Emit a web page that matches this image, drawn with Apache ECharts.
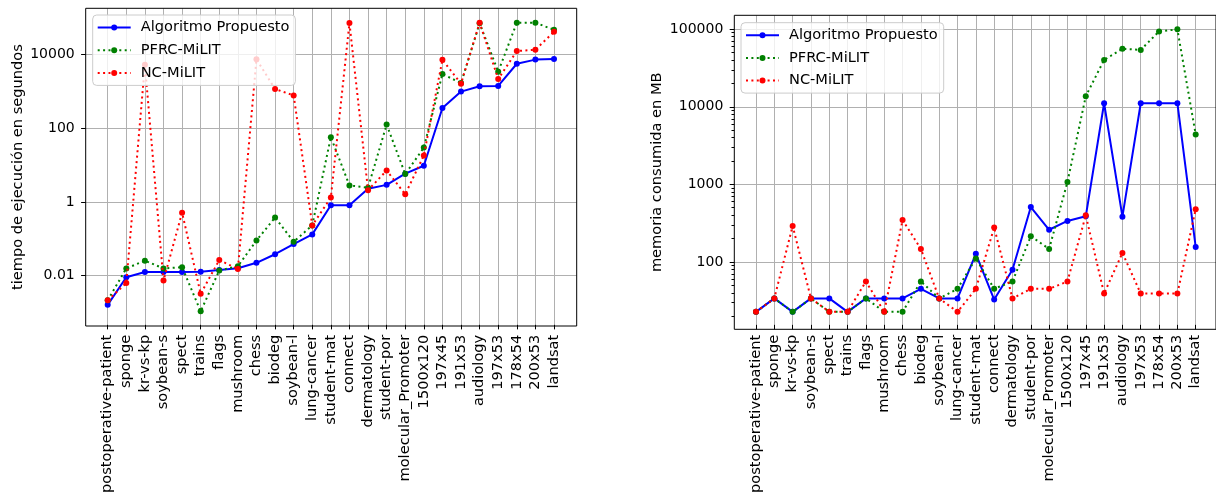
<!DOCTYPE html>
<html><head><meta charset="utf-8">
<script src="https://cdn.jsdelivr.net/npm/echarts@6/dist/echarts.min.js"></script>
<style>html,body{margin:0;padding:0;background:#fff}#c{width:1216px;height:496px}</style>
</head><body><div id="c"></div>
<script>
const categories = ['postoperative-patient','sponge','kr-vs-kp','soybean-s','spect','trains','flags','mushroom','chess','biodeg','soybean-l','lung-cancer','student-mat','connect','dermatology','student-por','molecular_Promoter','1500x120','197x45','191x53','audiology','197x53','178x54','200x53','landsat'];
const seriesNames = ['Algoritmo Propuesto','PFRC-MiLIT','NC-MiLIT'];

// tiempo de ejecución (s)
const timeAlg  = [0.0015,0.0085,0.0118,0.0118,0.0118,0.012,0.0134,0.0149,0.021,0.036,0.068,0.125,0.78,0.78,2.2,2.8,5.65,9.3,349,976,1360,1390,5600,7270,7600];
const timePFRC = [0.0020,0.0148,0.024,0.0148,0.016,0.0010,0.013,0.017,0.085,0.36,0.079,0.22,56,2.7,2.35,123,5.5,29,2930,1670,71000,3400,74000,74000,47000];
const timeNC   = [0.0020,0.0059,5250,0.0069,0.49,0.0030,0.025,0.0142,7450,1150,770,0.22,1.26,72000,2.0,6.9,1.55,17.7,7200,1600,74000,2150,12400,13500,41500];

// memoria consumida (MB)
const memAlg  = [20,30,20,30,30,20,30,30,30,40,30,30,115,29,71,469,237,309,355,10700,351,10700,10700,10700,141];
const memPFRC = [20,30,20,30,20,20,30,20,20,50,30,40,100,40,50,195,133,1000,13200,39400,55000,53300,93000,98900,4170];
const memNC   = [20,30,266,30,20,20,50,20,318,133,30,20,40,253,30,40,40,50,366,34.7,118,34.7,34.7,34.7,441];

const timeTicks = [0.01, 1, 100, 10000];
const memTicks = [100, 1000, 10000, 100000];
const memMinorTicks = [20,30,40,50,60,70,80,90,200,300,400,500,600,700,800,900,2000,3000,4000,5000,6000,7000,8000,9000,20000,30000,40000,50000,60000,70000,80000,90000];

const FONT = 'DejaVu Sans';
const colors = ['#0000ff', '#008000', '#ff0000'];
const lineTypes = ['solid', [2, 3.4], [2, 3.4]];
const GRID_C = '#b0b0b0';
function fmt(v){ return String(Number(Number(v).toPrecision(6))); }
const lg = v => Math.log10(v);   // both y axes are logarithmic (decades)

const L = {fl: 85.7, ft: 8.3, fw: 491, fh: 317.7, cl: 107.7, cw: 446.3, min: 0.00043, max: 181970};
const R = {fl: 734.3, ft: 15.3, fw: 483.4, fh: 314, cl: 756, cw: 439.7, min: 13.56, max: 151000};

const chart = echarts.init(document.getElementById('c'), null, {renderer: 'canvas'});

function frameGrid(P){ return {left:P.fl, top:P.ft, width:P.fw, height:P.fh, show:true, borderColor:'#000', borderWidth:1, backgroundColor:'transparent', containLabel:false, z:3}; }
function catGrid(P){ return {left:P.cl, top:P.ft, width:P.cw, height:P.fh, show:false, containLabel:false}; }

function hiddenX(gi){ return {type:'value', gridIndex:gi, min:0, max:1, show:false, axisLine:{onZero:false}}; }
function catX(gi){
  return {type:'category', gridIndex:gi, data:categories, boundaryGap:false, position:'bottom',
    axisLine:{show:false, onZero:false},
    axisTick:{show:true, length:4.6, lineStyle:{color:'#000', width:1}},
    axisLabel:{interval:0, rotate:90, margin:10, fontFamily:FONT, fontSize:14.6, color:'#000'},
    splitLine:{show:true, lineStyle:{color:GRID_C, width:1}}};
}
function mainY(gi, P, ticks, name, gap){
  const tv = ticks.map(lg);
  return {type:'value', gridIndex:gi, min:lg(P.min), max:lg(P.max), position:'left',
    name:name, nameLocation:'middle', nameRotate:90, nameGap:gap,
    nameTextStyle:{fontFamily:FONT, fontSize:14.6, color:'#000'},
    axisLine:{show:false, onZero:false},
    axisTick:{show:true, length:4.6, lineStyle:{color:'#000', width:1}, customValues:tv},
    axisLabel:{margin:11, fontFamily:FONT, fontSize:14, color:'#000', customValues:tv,
      formatter:v => fmt(Math.pow(10, v))},
    splitLine:{show:true, lineStyle:{color:GRID_C, width:1}}};
}
function dataY(gi, P){
  return {type:'value', gridIndex:gi, min:lg(P.min), max:lg(P.max), position:'left',
    axisLine:{show:false, onZero:false}, axisTick:{show:false}, axisLabel:{show:false}, splitLine:{show:false}};
}

function mkSeries(vals, k, xi, yi){
  return {type:'line', name:seriesNames[k], xAxisIndex:xi, yAxisIndex:yi, data:vals.map(lg),
    symbol:'circle', symbolSize:6, showSymbol:true,
    itemStyle:{color:colors[k]},
    lineStyle:{color:colors[k], width:2, type:lineTypes[k]},
    emphasis:{disabled:true}, z:2+k};
}

function mkLegend(left, top){
  return {orient:'vertical', left:left, top:top, padding:[5,6,5,4], itemGap:7.7, itemWidth:33, itemHeight:7.5,
    backgroundColor:'rgba(255,255,255,0.8)', borderColor:'#cccccc', borderWidth:1, borderRadius:4,
    textStyle:{fontFamily:FONT, fontSize:14.6, color:'#000', padding:[0,0,0,5]},
    data:seriesNames, selectedMode:false, z:10};
}

const option = {
  animation:false,
  backgroundColor:'#fff',
  grid:[frameGrid(L), catGrid(L), frameGrid(R), catGrid(R)],
  xAxis:[hiddenX(0), catX(1), hiddenX(2), catX(3)],
  yAxis:[
    mainY(0, L, timeTicks, 'tiempo de ejecución en segundos', 60),
    dataY(1, L),
    mainY(2, R, memTicks, 'memoria consumida en MB', 70),
    dataY(3, R),
    {type:'value', gridIndex:2, min:lg(R.min), max:lg(R.max), position:'left', offset:0,
      axisLine:{show:false, onZero:false}, axisLabel:{show:false}, splitLine:{show:false},
      axisTick:{show:true, length:2.8, lineStyle:{color:'#000', width:1}, customValues:memMinorTicks.map(lg)}}
  ],
  legend:[mkLegend(92.7, 15), mkLegend(741, 22.7)],
  series:[
    mkSeries(timeAlg, 0, 1, 1), mkSeries(timePFRC, 1, 1, 1), mkSeries(timeNC, 2, 1, 1),
    mkSeries(memAlg, 0, 3, 3), mkSeries(memPFRC, 1, 3, 3), mkSeries(memNC, 2, 3, 3)
  ]
};
chart.setOption(option);
</script></body></html>
